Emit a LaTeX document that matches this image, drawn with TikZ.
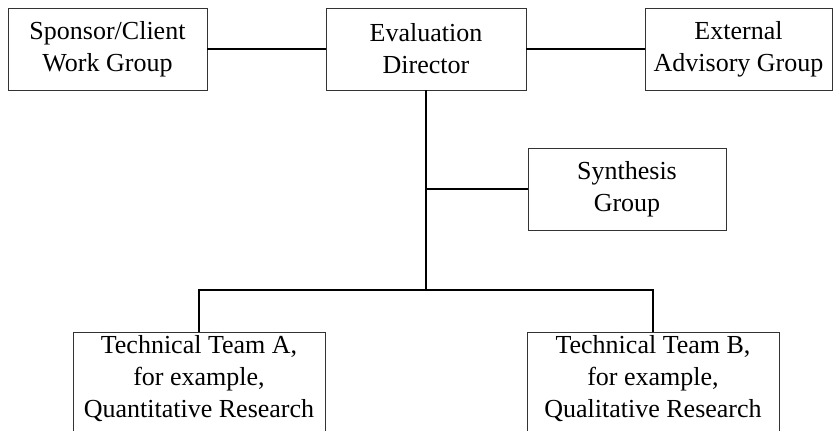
\documentclass[tikz,border=0pt]{standalone}
\usepackage{fontspec}
\setmainfont{Liberation Serif}
\begin{document}
\begin{tikzpicture}[x=1pt,y=-1pt,
  box/.style={draw=black!80, line width=0.9pt, align=center, inner sep=0pt,
    font=\fontsize{26}{32}\selectfont},
  link/.style={line width=2.3pt, black, line join=miter}]
\useasboundingbox (0,0) rectangle (833,431);
\clip (0,0) rectangle (833,431);

% top row
\node[box, minimum width=199pt, minimum height=82pt] (sponsor) at (107.5,49) {Sponsor/Client\\Work Group};
\node[box, minimum width=200pt, minimum height=82pt] (director) at (426,49) {Evaluation\\Director};
\node[box, minimum width=187pt, minimum height=82pt] (external) at (738.5,49) {External\\Advisory Group};

% synthesis group
\node[box, minimum width=198pt, minimum height=82pt] (synthesis) at (627,189) {Synthesis\\Group};

% technical teams (run past the lower edge)
\node[box, minimum width=252pt, minimum height=102pt, text depth=14pt] (teamA) at (199,383) {Technical Team A,\\for example,\\Quantitative Research};
\node[box, minimum width=252pt, minimum height=102pt, text depth=14pt] (teamB) at (653,383) {Technical Team B,\\for example,\\Qualitative Research};

% connectors
\coordinate (hub) at (426,189);
\coordinate (split) at (426,290);
\draw[link] (sponsor.east) -- (director.west);
\draw[link] (director.east) -- (external.west);
\draw[link] (director.south) -- (split);
\draw[link] (hub) -- (synthesis.west);
\draw[link] (teamA.north) |- (split) -| (teamB.north);
\end{tikzpicture}
\end{document}
